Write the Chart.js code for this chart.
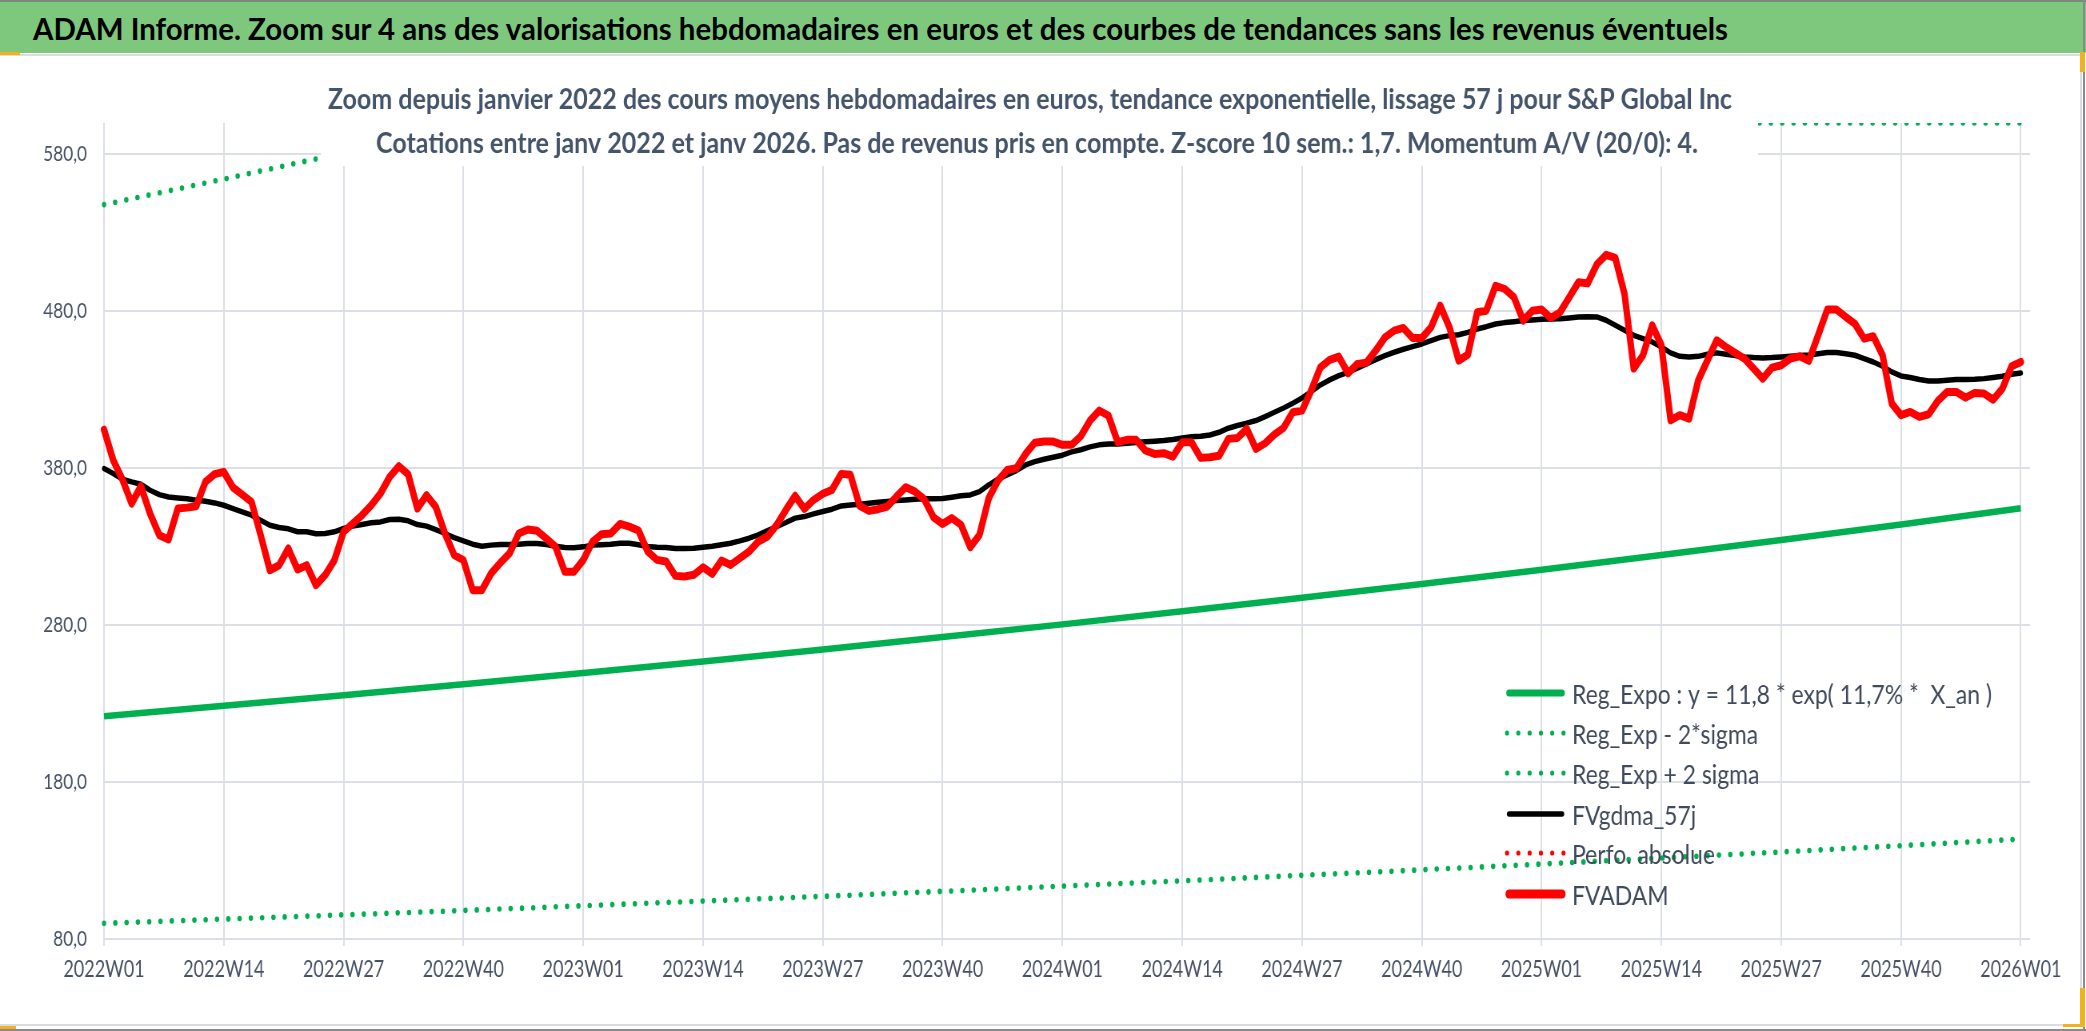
<!DOCTYPE html>
<html><head><meta charset="utf-8">
<script src="https://cdn.jsdelivr.net/npm/chart.js@4.4.1/dist/chart.umd.min.js"></script>
<style>
html,body{margin:0;padding:0;background:#fff;width:2086px;height:1031px;overflow:hidden;position:relative}
#bar{position:absolute;left:0;top:0;width:2086px;height:53px;background:#7ec87e;border-top:2px solid #7b8b7b;box-sizing:border-box;z-index:3;overflow:hidden}
#bartext{position:absolute;left:33px;top:0;line-height:52px;font-family:Lato,"Liberation Sans",sans-serif;font-size:30px;font-weight:bold;color:#000;white-space:nowrap;transform-origin:0 50%}
#frame{position:absolute;left:-3px;top:54px;width:2085px;height:972px;border:2px solid #dadce1;box-sizing:border-box;z-index:0}
#outerR{position:absolute;left:2083px;top:0;width:2px;height:1031px;background:#8a8a8a;z-index:4}
#outerB{position:absolute;left:0;top:1029px;width:2086px;height:2px;background:#8a8a8a;z-index:4}
.h{position:absolute;background:#f2b21c;z-index:5}
#c{position:absolute;left:0;top:0;z-index:1;width:2086px;height:1031px}
</style></head>
<body>
<div id="frame"></div>
<canvas id="c" width="2608" height="1031" style="width:2086px;height:1031px"></canvas>
<div id="bar"><span id="bartext">ADAM Informe. Zoom sur 4 ans des valorisations hebdomadaires en euros et des courbes de tendances sans les revenus éventuels</span></div>
<div id="outerR"></div><div id="outerB"></div>
<div class="h" style="left:0;top:52px;width:20px;height:3px"></div>
<div class="h" style="left:2080px;top:52px;width:5px;height:20px"></div>
<div class="h" style="left:2080px;top:988px;width:5px;height:39px"></div>
<div class="h" style="left:2063px;top:1024px;width:22px;height:3px"></div>
<div class="h" style="left:0;top:1026px;width:16px;height:3px"></div>
<script>
// ---------- data ----------
const years = [2022, 2023, 2024, 2025];
const weeks = [];
for (const y of years) for (let w = 1; w <= 52; w++) weeks.push(y + 'W' + String(w).padStart(2, '0'));
weeks.push('2026W01'); weeks.push('');

const tickLabels = ['2022W01','2022W14','2022W27','2022W40','2023W01','2023W14','2023W27','2023W40','2024W01','2024W14','2024W27','2024W40','2025W01','2025W14','2025W27','2025W40','2026W01'];
const yTicks = [80, 180, 280, 380, 480, 580];

const fvadam = [
404.6,385.1,372.8,357.5,368.5,351.1,337.3,334.6,354.3,354.9,
355.8,371.3,376.2,377.7,367.7,363.2,358.6,337.3,315.0,318.2,
328.8,315.5,318.2,305.5,311.9,321.4,339.5,344.8,350.1,356.4,
363.9,374.5,381.3,376.2,354.3,362.8,355.4,338.4,324.6,321.4,
302.3,302.3,312.9,319.7,325.7,338.4,340.9,340.1,335.2,329.9,
314.0,314.0,321.4,333.1,338.0,338.4,344.5,342.8,340.3,326.9,
321.6,320.6,311.4,311.0,312.1,316.9,312.7,321.2,318.4,322.7,
326.9,333.3,336.5,343.9,353.5,362.4,354.1,359.8,363.7,366.2,
376.4,375.8,356.0,352.8,353.9,355.6,362.0,367.9,365.1,360.3,
348.8,344.5,348.2,343.9,329.7,337.5,360.9,372.1,378.9,380.0,
389.1,396.3,397.0,397.0,394.9,394.9,400.5,410.4,416.7,413.5,
396.6,398.1,398.1,391.3,389.1,389.6,387.4,396.6,396.6,386.6,
387.0,387.9,398.7,399.3,405.1,392.3,395.9,401.5,405.7,415.7,
416.7,429.5,444.3,449.0,451.1,440.5,446.5,447.3,455.0,463.4,
467.7,469.4,463.0,463.0,469.8,483.6,469.8,448.6,452.4,479.4,
480.4,496.3,494.2,488.9,474.1,480.4,481.1,475.8,479.4,488.9,
498.5,497.8,510.0,516.0,514.0,491.0,443.5,452.0,471.1,458.3,
410.6,413.8,411.6,436.1,448.8,461.5,457.3,453.5,449.9,443.5,
437.1,444.1,445.6,449.9,451.3,448.4,464.7,481.1,481.1,476.4,
472.1,462.6,464.1,452.0,421.2,413.8,415.9,412.7,414.4,422.9,
428.6,428.6,425.0,428.0,427.6,423.7,430.7,445.0,447.7
];

const fvgdma57 = [
379.8,376.6,373.0,371.3,369.8,366.0,363.2,361.7,361.1,360.5,
359.6,359.0,357.9,356.4,354.3,352.2,350.1,346.9,343.7,342.2,
341.4,339.5,339.5,338.2,338.4,339.5,341.6,343.1,344.1,345.2,
345.8,347.3,347.5,346.5,344.1,343.1,340.9,338.4,335.8,333.7,
331.6,330.3,331.0,331.4,331.4,331.6,332.0,332.0,331.4,330.3,
329.5,329.3,329.9,331.0,331.3,331.6,332.2,332.2,331.2,330.1,
329.7,329.5,328.8,328.8,329.0,329.7,330.3,331.2,332.2,333.7,
335.4,337.5,340.3,342.8,345.4,348.2,349.2,350.9,352.4,353.9,
356.0,356.6,357.1,357.7,358.3,358.8,359.4,359.8,360.3,360.5,
360.5,360.7,361.5,362.4,363.0,365.1,369.4,373.0,375.8,378.5,
382.1,384.2,385.7,387.0,388.3,390.4,391.8,393.6,394.9,395.5,
395.5,395.9,396.4,396.8,397.2,397.6,398.3,399.3,400.0,400.4,
401.2,402.9,405.5,407.2,408.7,410.4,412.9,415.7,418.4,421.4,
424.8,428.8,433.1,436.3,439.0,441.1,443.7,446.5,449.2,451.8,
453.9,455.8,457.5,459.2,461.3,463.4,464.5,465.1,466.6,468.7,
470.2,471.9,472.8,473.4,474.1,474.5,474.9,475.1,475.3,475.8,
476.3,476.5,476.4,474.3,471.1,467.9,464.7,462.6,460.5,457.3,
453.5,451.3,450.9,451.3,452.6,453.5,452.6,451.8,450.9,450.5,
450.3,450.5,450.9,451.3,451.8,452.2,453.0,453.7,453.7,453.0,
452.0,449.9,447.7,445.0,441.4,438.8,437.8,436.5,435.6,435.6,
436.1,436.5,436.5,436.7,437.1,437.8,438.6,439.9,440.7
];

// trend values read at each labelled week (every 13 weeks)
const regExpo  = [222.0,228.6,235.4,242.3,249.5,256.9,264.5,272.4,280.5,288.8,297.4,306.2,315.3,324.7,334.3,344.2,354.5];
const regMinus = [90.0,92.7,95.4,98.2,101.2,104.2,107.2,110.4,113.7,117.1,120.6,124.1,127.8,131.6,135.5,139.5,143.7];
const regPlus  = [548.0,564.3,581.0,598.2,600,600,600,600,600,600,600,600,600,600,600,600,600];
const perfoAbs = [];

const seriesNames = ['Reg_Expo : y = 11,8 * exp( 11,7% *  X_an )','Reg_Exp - 2*sigma','Reg_Exp + 2 sigma','FVgdma_57j','Perfo. absolue','FVADAM'];
const subtitle1 = 'Zoom depuis janvier 2022 des cours moyens hebdomadaires en euros, tendance exponentielle, lissage 57 j pour S&P Global Inc';
const subtitle2 = 'Cotations entre janv 2022 et janv 2026. Pas de revenus pris en compte. Z-score 10 sem.: 1,7. Momentum A/V (20/0): 4.';

// ---------- layout helpers ----------
const FF = 'Lato, "Liberation Sans", sans-serif';
const canvas = document.getElementById('c');
const S = 2086 / canvas.width;          // horizontal squeeze of the picture
const X = v => v / S;                   // page px -> canvas px (horizontal)

// title bar fit
const bt = document.getElementById('bartext');
const bw = bt.getBoundingClientRect().width;
bt.style.transform = 'scaleX(' + (1695 / bw) + ')';

// ---------- chart ----------
const GREEN = '#00b050';
const tickIdx = tickLabels.map(l => weeks.indexOf(l));
function atTicks(arr){ const out = new Array(weeks.length).fill(null); arr.forEach((v,i)=>{ out[tickIdx[i]] = v; }); return out; }

function drawScaled(c, text, x, y, k){
  c.save(); c.translate(x, y); c.scale(k, 1); c.textAlign = 'left'; c.textBaseline = 'alphabetic';
  c.fillText(text, 0, 0); c.restore();
}
function fitText(c, text, x, y, w, font){
  c.font = font;
  drawScaled(c, text, x, y, w / c.measureText(text).width);
}

const overlay = {
  id: 'overlay',
  afterDatasetsDraw(chart){
    const c = chart.ctx;
    c.save();
    // subtitle box (white, covers the plot behind it)
    c.fillStyle = '#ffffff';
    c.fillRect(X(321), 60, X(1437), 106);
    c.fillStyle = '#44546a';
    fitText(c, subtitle1, X(328), 109, X(1404), 'bold 28px ' + FF);
    fitText(c, subtitle2, X(376), 153, X(1322), 'bold 28px ' + FF);
    // legend
    const ds = chart.data.datasets;
    const rows = [693, 733, 773, 814, 853, 894];
    const LF = '27.5px ' + FF;
    c.font = LF;
    const k = X(420) / c.measureText(ds[0].label).width;
    ds.forEach((d, r) => {
      const y = rows[r];
      c.save();
      c.strokeStyle = d.borderColor;
      c.lineCap = 'round';
      if (d.borderDash && d.borderDash.length) {
        c.lineWidth = 5.2; c.setLineDash([0, X(11.3)]);
        c.beginPath(); c.moveTo(X(1507), y); c.lineTo(X(1565), y); c.stroke();
      } else {
        c.lineWidth = d.legendWidth || 6;
        c.beginPath(); c.moveTo(X(1509), y); c.lineTo(X(1562), y); c.stroke();
      }
      c.restore();
      c.fillStyle = '#404a5b';
      c.font = LF;
      drawScaled(c, d.label, X(1572), y + 10.5, k);
    });
    c.restore();
  }
};

Chart.defaults.font.family = FF;
new Chart(canvas, {
  type: 'line',
  data: {
    labels: weeks,
    datasets: [
      { label: seriesNames[0], data: atTicks(regExpo), borderColor: GREEN, borderWidth: 6.5, legendWidth: 7, spanGaps: true, order: 5 },
      { label: seriesNames[1], data: atTicks(regMinus), borderColor: GREEN, borderWidth: 5.6, borderDash: [0, X(11.3)], borderCapStyle: 'round', spanGaps: true, order: 4 },
      { label: seriesNames[2], data: atTicks(regPlus), borderColor: GREEN, borderWidth: 5.6, borderDash: [0, X(11.3)], borderCapStyle: 'round', spanGaps: true, order: 3 },
      { label: seriesNames[3], data: fvgdma57, borderColor: '#000000', borderWidth: 5.5, legendWidth: 5.5, borderJoinStyle: 'round', borderCapStyle: 'round', order: 2 },
      { label: seriesNames[4], data: perfoAbs, borderColor: '#ff0000', borderWidth: 5.6, borderDash: [0, X(11.3)], borderCapStyle: 'round', order: 1 },
      { label: seriesNames[5], data: fvadam, borderColor: '#ff0000', borderWidth: 8, legendWidth: 9, borderJoinStyle: 'round', borderCapStyle: 'round', order: 0 }
    ]
  },
  options: {
    responsive: false, animation: false, devicePixelRatio: 1,
    layout: { padding: { top: 123, right: X(56), bottom: 0, left: 0 } },
    elements: { point: { radius: 0, hoverRadius: 0 }, line: { tension: 0, fill: false } },
    plugins: { legend: { display: false }, tooltip: { enabled: false }, title: { display: false } },
    events: [],
    scales: {
      x: {
        type: 'category', offset: false,
        grid: { color: '#dcdfe6', lineWidth: 2, tickLength: 7, drawTicks: true },
        border: { display: false },
        ticks: { autoSkip: false, maxRotation: 0, minRotation: 0, padding: 10, color: '#465264', font: { family: FF, size: 22.5 } },
        afterBuildTicks: s => { s.ticks = s.ticks.filter(t => tickLabels.includes(weeks[t.value])); },
        afterFit: s => { s.height = 92; }
      },
      y: {
        min: 80, max: 600,
        grid: { color: '#dcdfe6', lineWidth: 2, drawTicks: false },
        border: { display: false },
        ticks: { padding: X(17), color: '#465264', font: { family: FF, size: 21.5 },
          callback: v => v.toFixed(1).replace('.', ',') },
        afterBuildTicks: s => { s.ticks = yTicks.map(v => ({ value: v })); },
        afterFit: s => { s.width = X(104); }
      }
    }
  },
  plugins: [overlay]
});
</script>
</body></html>
